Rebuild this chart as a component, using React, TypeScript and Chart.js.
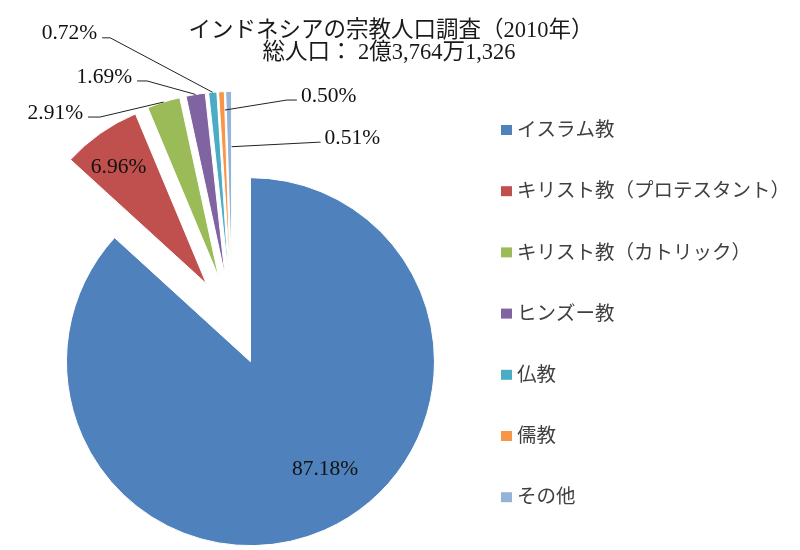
import React, { useEffect, useRef } from "react";
import { Chart, registerables } from "chart.js";

Chart.register(...registerables);

// ---- data ----
const categories = [
  "イスラム教",
  "キリスト教（プロテスタント）",
  "キリスト教（カトリック）",
  "ヒンズー教",
  "仏教",
  "儒教",
  "その他",
];
const shares = [87.18, 6.96, 2.91, 1.69, 0.72, 0.5, 0.51];
const titleLines = ["インドネシアの宗教人口調査（2010年）", "総人口： 2億3,764万1,326"];

// ---- styles ----
const colors = ["#4F81BD", "#C0504D", "#9BBB59", "#8064A2", "#4BACC6", "#F79646", "#95B3D7"];
const EXPLODE = 45;
const RADIUS = 184;
const FONT = '"Liberation Serif", "Noto Sans CJK JP", serif';

type Placement =
  | { kind: "inside"; rFrac: number; turnDeg: number }
  | { kind: "outside"; along: number; rFrac: number; elbow: [number, number]; tail: number };

const labelPlacement: Placement[] = [
  { kind: "inside", rFrac: 0.71, turnDeg: -11 },
  { kind: "inside", rFrac: 0.79, turnDeg: -2 },
  { kind: "outside", along: 0.5, rFrac: 1, elbow: [-63.5, 15], tail: -12 },
  { kind: "outside", along: 0.5, rFrac: 1, elbow: [-48.5, -13.5], tail: -10 },
  { kind: "outside", along: 0.5, rFrac: 1, elbow: [-102.5, -54.5], tail: -8 },
  { kind: "outside", along: 1, rFrac: 0.9, elbow: [62, -10], tail: 10 },
  { kind: "outside", along: 1, rFrac: 0.7, elbow: [87, -4.5], tail: 2 },
];

function slicePoint(arc: any, angle: number, rFrac: number): [number, number] {
  const mid = (arc.startAngle + arc.endAngle) / 2;
  const cx = arc.x + Math.cos(mid) * EXPLODE;
  const cy = arc.y + Math.sin(mid) * EXPLODE;
  const r = arc.outerRadius * rFrac;
  return [cx + Math.cos(angle) * r, cy + Math.sin(angle) * r];
}

const explodePlugin = {
  id: "explodeSlices",
  beforeDatasetDraw(chart: any, args: any) {
    const ctx = chart.ctx;
    args.meta.data.forEach((arc: any) => {
      const mid = (arc.startAngle + arc.endAngle) / 2;
      ctx.save();
      ctx.translate(Math.cos(mid) * EXPLODE, Math.sin(mid) * EXPLODE);
      arc.draw(ctx);
      ctx.restore();
    });
    return false;
  },
  afterDraw(chart: any) {
    const ctx = chart.ctx as CanvasRenderingContext2D;
    const meta = chart.getDatasetMeta(0);
    ctx.save();

    // title
    ctx.fillStyle = "#1a1a1a";
    ctx.textAlign = "center";
    ctx.textBaseline = "middle";
    ctx.font = `22.5px ${FONT}`;
    ctx.fillText(titleLines[0], 391, 31);
    ctx.fillText(titleLines[1], 389, 53);

    // data labels
    ctx.font = `21.5px ${FONT}`;
    meta.data.forEach((arc: any, i: number) => {
      const p = labelPlacement[i];
      const text = shares[i].toFixed(2) + "%";
      ctx.fillStyle = "#111";
      if (p.kind === "inside") {
        const mid = (arc.startAngle + arc.endAngle) / 2 + (p.turnDeg * Math.PI) / 180;
        const [x, y] = slicePoint(arc, mid, p.rFrac);
        ctx.textAlign = "center";
        ctx.textBaseline = "middle";
        ctx.fillText(text, x, y);
      } else {
        const ang = arc.startAngle + (arc.endAngle - arc.startAngle) * p.along;
        const [ax, ay] = slicePoint(arc, ang, p.rFrac);
        const ex = ax + p.elbow[0];
        const ey = ay + p.elbow[1];
        const tx = ex + p.tail;
        ctx.strokeStyle = "#222";
        ctx.lineWidth = 1;
        ctx.beginPath();
        ctx.moveTo(ax, ay);
        ctx.lineTo(ex, ey);
        ctx.lineTo(tx, ey);
        ctx.stroke();
        ctx.textBaseline = "middle";
        if (p.tail < 0) {
          ctx.textAlign = "right";
          ctx.fillText(text, tx - 5, ey - 4);
        } else {
          ctx.textAlign = "left";
          ctx.fillText(text, tx + 4, ey - 4);
        }
      }
    });

    // legend
    ctx.font = `19.5px ${FONT}`;
    ctx.textAlign = "left";
    ctx.textBaseline = "middle";
    categories.forEach((c, i) => {
      const y = 130 + i * 61.2;
      ctx.fillStyle = colors[i];
      ctx.fillRect(501, y - 5, 11, 10);
      ctx.fillStyle = "#404040";
      ctx.fillText(c, 517, y + 1);
    });

    ctx.restore();
  },
};

export default function App() {
  const ref = useRef<HTMLCanvasElement | null>(null);
  useEffect(() => {
    if (!ref.current) return;
    const chart = new Chart(ref.current, {
      type: "pie",
      data: {
        labels: categories,
        datasets: [
          {
            data: shares,
            backgroundColor: colors,
            borderColor: "#ffffff",
            borderWidth: 1,
            radius: RADIUS,
          } as any,
        ],
      },
      options: {
        responsive: false,
        animation: false,
        events: [],
        layout: { padding: { left: 0, top: 91, right: 335.4, bottom: 0 } },
        plugins: {
          legend: { display: false },
          title: { display: false },
          tooltip: { enabled: false },
        },
      },
      plugins: [explodePlugin],
    });
    return () => chart.destroy();
  }, []);
  return (
    <div style={{ position: "absolute", left: 0, top: 0, width: 800, height: 550, background: "#fff" }}>
      <canvas ref={ref} width={800} height={550} />
    </div>
  );
}
